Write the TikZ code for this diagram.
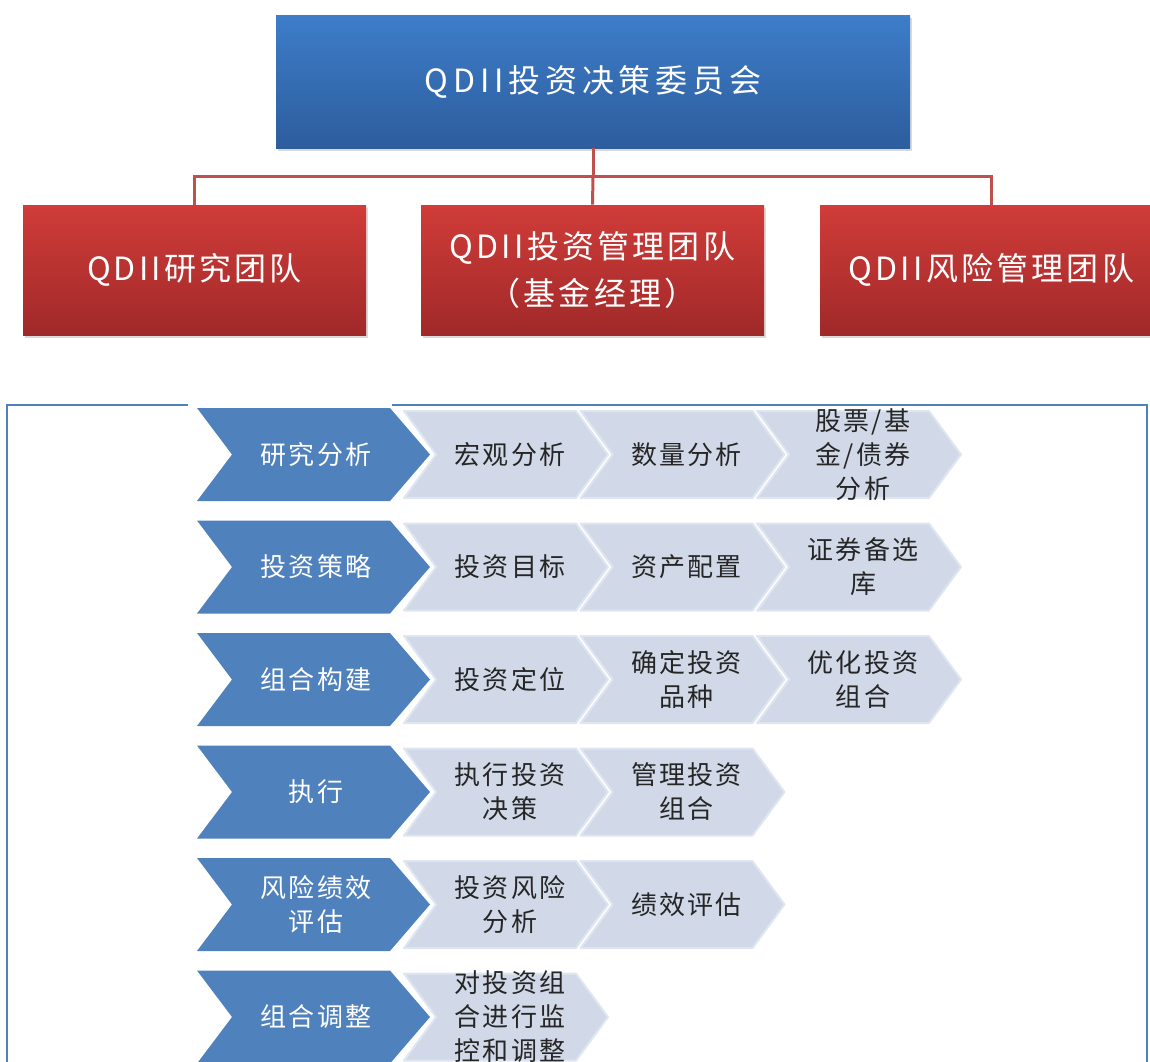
\documentclass[tikz,border=0pt]{standalone}
\usepackage{fontspec}
\setmainfont{Noto Sans CJK SC}
\usetikzlibrary{shadows}
\definecolor{boardtop}{RGB}{61,125,201}
\definecolor{boardbot}{RGB}{45,93,157}
\definecolor{teamtop}{RGB}{208,60,57}
\definecolor{teambot}{RGB}{160,41,41}
\definecolor{linkred}{RGB}{192,80,77}
\definecolor{stepblue}{RGB}{79,129,189}
\definecolor{subgray}{RGB}{209,217,232}
\definecolor{subedge}{RGB}{224,230,240}

\begin{document}
\begin{tikzpicture}[x=0.5pt,y=-0.5pt,
    board/.style={minimum width=317pt,minimum height=66.5pt,
      top color=boardtop,bottom color=boardbot,text=white,
      font=\fontsize{16}{20}\selectfont\addfontfeature{LetterSpace=15},
      drop shadow={shadow xshift=1pt,shadow yshift=-1.5pt,opacity=0.3}},
    team/.style={minimum width=171.5pt,minimum height=65pt,align=center,
      top color=teamtop,bottom color=teambot,text=white,
      font=\fontsize{16}{23.5}\selectfont\addfontfeature{LetterSpace=10},
      drop shadow={shadow xshift=1pt,shadow yshift=-1.5pt,opacity=0.3}},
    link/.style={linkred,line width=1.5pt},
    frame/.style={stepblue,line width=1pt},
    steptext/.style={align=center,text=white,inner sep=0pt,
      font=\fontsize{13}{17}\selectfont\addfontfeature{LetterSpace=10}},
    subtext/.style={align=center,text=black!85,inner sep=0pt,
      font=\fontsize{13}{17}\selectfont\addfontfeature{LetterSpace=8}}]
  \useasboundingbox (0,0) rectangle (1150,1061);
  % committee and teams
  \node[board] (board) at (593,81.5) {QDII投资决策委员会};
  \node[team] (research) at (194.5,270) {QDII研究团队};
  \node[team] (invest) at (592.5,270) {QDII投资管理团队\\（基金经理）};
  \node[team] (risk) at (991.5,270) {QDII风险管理团队};
  \draw[link] (board.south) -- ++(0,28) coordinate (bus);
  \draw[link] (bus) -| (research.north);
  \draw[link] (bus) -- (invest.north);
  \draw[link] (bus) -| (risk.north);
  % process frame
  \draw[frame] (188,405) -- (7,405) -- (7,1075);
  \draw[frame] (392,405) -- (1147,405) -- (1147,1075);
  % main steps
  \foreach \yo/\lbl [count=\r] in {408/研究分析,520.5/投资策略,633/组合构建,
      745.5/执行,858/{风险绩效\\评估},970.5/组合调整}{
    \fill[stepblue] (197,\yo) -- ++(193,0) -- ++(40,46.5) -- ++(-40,46.5)
      -- ++(-193,0) -- ++(35,-46.5) -- cycle;
    \node[steptext] (step\r) at (316,\yo+46.5) {\lbl};
  }
  % sub steps
  \foreach \r/\c/\lbl in {1/1/宏观分析,1/2/数量分析,1/3/{股票/基\\金/债券\\分析},
      2/1/投资目标,2/2/资产配置,2/3/{证券备选\\库},
      3/1/投资定位,3/2/{确定投资\\品种},3/3/{优化投资\\组合},
      4/1/{执行投资\\决策},4/2/{管理投资\\组合},
      5/1/{投资风险\\分析},5/2/绩效评估,
      6/1/{对投资组\\合进行监\\控和调整}}{
    \pgfmathsetmacro\xo{404+(\c-1)*176.5}
    \pgfmathsetmacro\yo{408+(\r-1)*112.5}
    \filldraw[fill=subgray,draw=subedge,line width=1pt,line join=round]
      (\xo,\yo+3) -- ++(172,0) -- ++(32,43.5) -- ++(-32,43.5)
      -- ++(-172,0) -- ++(32,-43.5) -- cycle;
    \node[subtext] (sub\r\c) at (\xo+106,\yo+46.5) {\lbl};
  }
\end{tikzpicture}
\end{document}
